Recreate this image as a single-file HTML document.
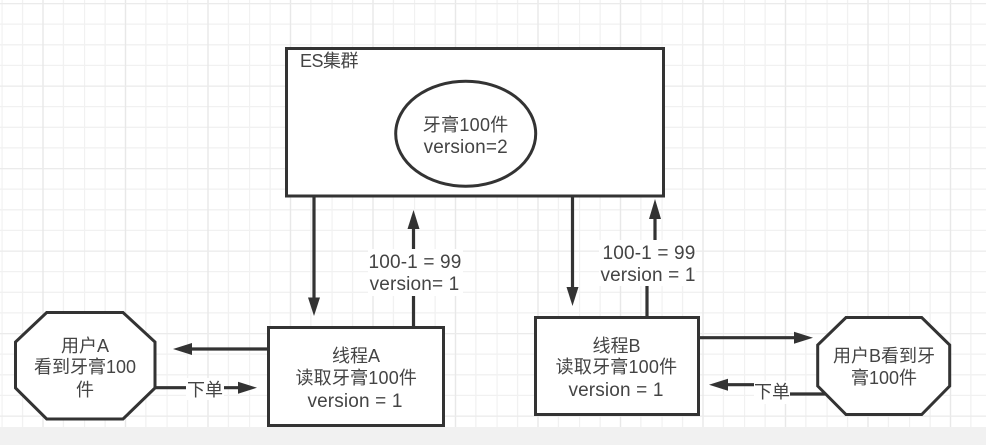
<!DOCTYPE html>
<html><head><meta charset="utf-8">
<style>
html,body{margin:0;padding:0;background:#fff;width:986px;height:445px;overflow:hidden}
svg{display:block}
text{font-family:"Liberation Sans","Noto Sans CJK SC",sans-serif;font-size:18px;fill:#444;text-anchor:middle}
text.l{font-size:19px;letter-spacing:.15px}
</style></head><body>
<svg width="986" height="445" viewBox="0 0 986 445" xmlns="http://www.w3.org/2000/svg">
<defs>
<pattern id="g" x="1.5" y="3" width="82.5" height="82.5" patternUnits="userSpaceOnUse">
<g stroke="#f1f1f1" stroke-width="1.3" fill="none">
<path d="M.5 0V82.5M21.1 0V82.5M61.9 0V82.5M0 .5H82.5M0 21.1H82.5M0 41.8H82.5M0 62.4H82.5"/>
</g>
<path d="M41.5 0V82.5" stroke="#e8e8e8" stroke-width="1.4"/>
<path d="M0 .5H82.5" stroke="#ebebeb" stroke-width="1.4"/>
</pattern>
</defs>
<rect width="986" height="427" fill="url(#g)"/>
<rect y="427" width="986" height="18" fill="#f1f1f1"/>

<g fill="none" stroke="#333" stroke-width="3">
<rect x="286.5" y="48.5" width="377" height="147.5" fill="#fff"/>
<ellipse cx="465.7" cy="133.7" rx="70" ry="52.5" fill="#fff"/>
<rect x="268.5" y="327.5" width="175" height="98" fill="#fff"/>
<rect x="535.5" y="317.5" width="163" height="97" fill="#fff"/>
<polygon points="46.7,312.5 123,312.5 155,342 155,388 123,419 46.7,419 15.5,388 15.5,342" fill="#fff"/>
<polygon points="846,317.5 921.7,317.5 949.7,345 949.7,386 921.7,414.5 846,414.5 817.7,386 817.7,345" fill="#fff"/>
</g>

<g fill="none" stroke="#333" stroke-width="3.2">
<path d="M314 197V299"/>
<path d="M413.5 326V228"/>
<path d="M572.5 197V288"/>
<path d="M647 316V278H655V218"/>
<path d="M267 349H191"/>
<path d="M156 387.7H239"/>
<path d="M700 337.7H795"/>
<path d="M825 394H772V384.7H727"/>
</g>
<g fill="#333">
<polygon points="314,316 308,297.5 320,297.5"/>
<polygon points="413.5,210 407.5,229 419.5,229"/>
<polygon points="572.5,306 566.5,287 578.5,287"/>
<polygon points="655,199 649,219 661,219"/>
<polygon points="173,349 192,343 192,355"/>
<polygon points="257,387.7 238,381.7 238,393.7"/>
<polygon points="813,337.7 794,331.7 794,343.7"/>
<polygon points="709,384.7 728,378.7 728,390.7"/>
</g>

<g fill="#fff">
<rect x="368" y="249" width="95" height="47"/>
<rect x="599" y="240" width="97" height="46"/>
<rect x="186" y="378" width="38" height="22"/>
<rect x="754" y="381" width="36" height="23"/>
</g>

<text x="329" y="67" style="letter-spacing:-.5px">ES集群</text>
<text x="465.7" y="131" style="letter-spacing:.3px">牙膏100件</text>
<text class="l" x="465.7" y="153">version=2</text>
<text x="85" y="352">用户A</text>
<text x="85" y="373">看到牙膏100</text>
<text x="85" y="396">件</text>
<text x="356" y="362">线程A</text>
<text x="356.3" y="384" style="letter-spacing:.2px">读取牙膏100件</text>
<text class="l" x="355" y="407">version = 1</text>
<text x="616.5" y="352">线程B</text>
<text x="616.5" y="373" style="letter-spacing:.2px">读取牙膏100件</text>
<text class="l" x="616" y="396">version = 1</text>
<text x="884" y="362">用户B看到牙</text>
<text x="884" y="384">膏100件</text>
<text class="l" x="415" y="268">100-1 = 99</text>
<text class="l" x="414.5" y="290">version= 1</text>
<text class="l" x="649" y="259">100-1 = 99</text>
<text class="l" x="648" y="281">version = 1</text>
<text x="205" y="396">下单</text>
<text x="772" y="398">下单</text>
</svg>
</body></html>
